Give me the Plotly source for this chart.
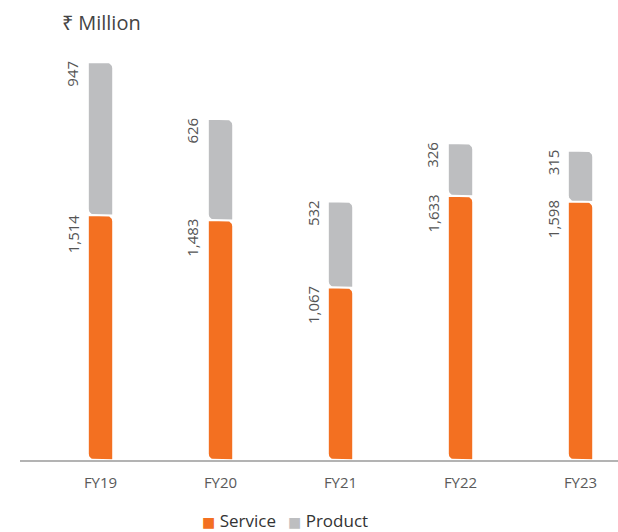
import numpy as np
import plotly.graph_objects as go

# Revenue by segment, ₹ Million
years = ["FY19", "FY20", "FY21", "FY22", "FY23"]
service = [1514, 1483, 1067, 1633, 1598]
product = [947, 626, 532, 326, 315]

SERVICE_COLOR = "#F37021"
PRODUCT_COLOR = "#BDBEC0"
FONT = "Open Sans"

# Figure geometry (pixels) used to size the leaf-shaped bar corners
W, H = 618, 532
ML, MR, MT, MB = 20, 0, 30, 72
PLOT_W, PLOT_H = W - ML - MR, H - MT - MB
X_RANGE = [-0.671, -0.671 + PLOT_W / 120.0]
Y_RANGE = [0, 2660]
px_x = PLOT_W / (X_RANGE[1] - X_RANGE[0])
px_y = PLOT_H / (Y_RANGE[1] - Y_RANGE[0])

BAR_W = 25 / px_x
RADIUS = 6
rx, ry = RADIUS / px_x, RADIUS / px_y


def leaf(xc, y0, y1):
    """Bar outline with top-right and bottom-left corners rounded."""
    x0, x1 = xc - BAR_W / 2, xc + BAR_W / 2
    t = np.linspace(0, np.pi / 2, 10)
    xs = [x0]
    ys = [y1]
    # top-right corner
    xs += list(x1 - rx + rx * np.cos(np.pi / 2 - t))
    ys += list(y1 - ry + ry * np.sin(np.pi / 2 - t))
    xs += [x1, x0 + rx]
    ys += [y0, y0]
    # bottom-left corner
    xs += list(x0 + rx - rx * np.sin(t))
    ys += list(y0 + ry - ry * np.cos(t))
    xs += [x0]
    ys += [y1]
    return xs, ys


def paper_x(px):
    return (px - ML) / PLOT_W


def paper_y(py):
    return (H - py - MB) / PLOT_H


fig = go.Figure()

for i, yr in enumerate(years):
    for name, lo, hi, color in [
        ("Service", 0, service[i], SERVICE_COLOR),
        ("Product", service[i], service[i] + product[i], PRODUCT_COLOR),
    ]:
        xs, ys = leaf(i, lo, hi)
        fig.add_trace(go.Scatter(
            x=xs, y=ys, fill="toself", fillcolor=color, mode="lines",
            line=dict(color="white", width=1.6),
            name=name, showlegend=False, hoverinfo="skip",
        ))

# rotated value labels beside each segment
for i in range(len(years)):
    for val, top in [(service[i], service[i]), (product[i], service[i] + product[i])]:
        fig.add_annotation(
            x=i - 28 / px_x, y=top, xref="x", yref="y",
            text=f"{val:,}", showarrow=False, textangle=-90,
            xanchor="center", yanchor="top", yshift=3,
            font=dict(family=FONT, size=15, color="#555555"),
        )

# unit caption
fig.add_annotation(
    x=paper_x(60), y=paper_y(22), xref="paper", yref="paper", text="₹ Million",
    showarrow=False, xanchor="left", yanchor="middle",
    font=dict(family=FONT, size=20, color="#444444"),
)

# legend: coloured square followed by series name
for name, color, left in [("Service", SERVICE_COLOR, 201), ("Product", PRODUCT_COLOR, 287)]:
    fig.add_annotation(
        x=paper_x(left), y=paper_y(520), xref="paper", yref="paper",
        text=f'<span style="color:{color};font-family:DejaVu Sans;font-size:14px">■</span> {name}',
        showarrow=False, xanchor="left", yanchor="middle", borderpad=0,
        font=dict(family=FONT, size=17, color="#333333"),
    )

fig.update_layout(
    width=W, height=H,
    margin=dict(l=ML, r=MR, t=MT, b=MB),
    plot_bgcolor="white", paper_bgcolor="white",
    font=dict(family=FONT, color="#555555"),
    showlegend=False,
    xaxis=dict(
        range=X_RANGE, tickmode="array", tickvals=list(range(len(years))),
        ticktext=years, showgrid=False, zeroline=False,
        showline=True, linecolor="#B3B3B3", linewidth=1.5,
        ticks="outside", ticklen=8, tickcolor="rgba(0,0,0,0)",
        tickfont=dict(family=FONT, size=15, color="#5a5a5a"),
    ),
    yaxis=dict(
        range=Y_RANGE, visible=False, showgrid=False, zeroline=False,
    ),
)

fig.write_html("out.html")
